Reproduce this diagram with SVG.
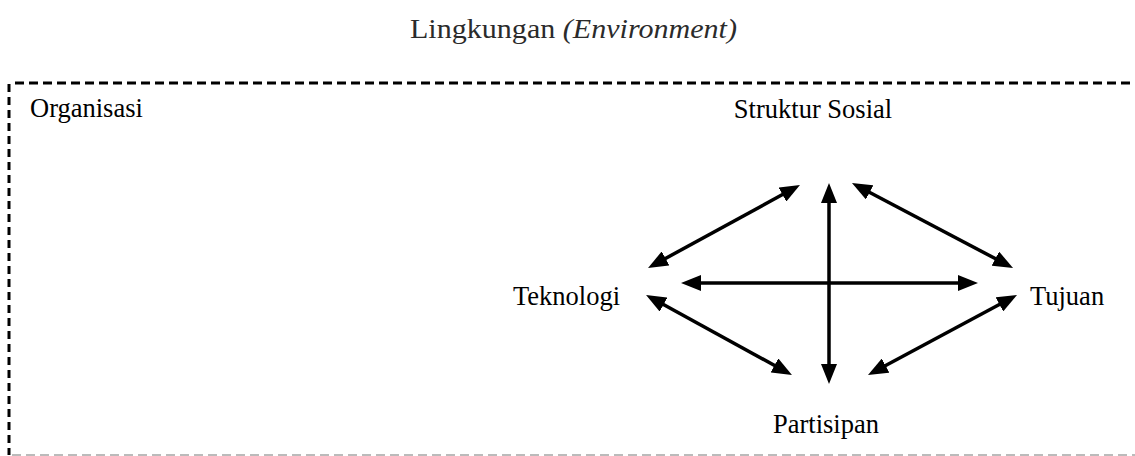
<svg xmlns="http://www.w3.org/2000/svg" width="1135" height="456" viewBox="0 0 1135 456">
<style>
.lbl{font-family:"Liberation Serif","Times New Roman",serif;font-size:26.5px;fill:#000}
.title{font-family:"Liberation Serif","Times New Roman",serif;font-size:28px;fill:#2b2b2b}
.arr{stroke:#000;stroke-width:3.5;fill:none;marker-start:url(#ah);marker-end:url(#ah)}
</style>
<defs>
<marker id="ah" markerUnits="userSpaceOnUse" markerWidth="20" markerHeight="16" viewBox="0 0 20 16" refX="10" refY="8" orient="auto-start-reverse">
<path d="M0,0 L20,8 L0,16 z" fill="#000"/>
</marker>
</defs>
<rect width="1135" height="456" fill="#fff"/>
<g id="environment">
<text class="title" x="410" y="38" textLength="327" lengthAdjust="spacingAndGlyphs">Lingkungan <tspan font-style="italic">(Environment)</tspan></text>
</g>
<g id="organisasi-boundary">
<line x1="15" y1="83" x2="1135" y2="83" stroke="#000" stroke-width="3" stroke-dasharray="9 5"/>
<line x1="9" y1="84" x2="9" y2="455" stroke="#000" stroke-width="3" stroke-dasharray="8 5"/>
<line x1="12" y1="455" x2="1135" y2="455" stroke="#bbb" stroke-width="2" stroke-dasharray="9 5"/>
<text class="lbl" x="30" y="117">Organisasi</text>
</g>
<g id="struktur-sosial"><text class="lbl" x="813" y="118" text-anchor="middle">Struktur Sosial</text></g>
<g id="teknologi"><text class="lbl" x="513" y="305">Teknologi</text></g>
<g id="tujuan"><text class="lbl" x="1030" y="305">Tujuan</text></g>
<g id="partisipan"><text class="lbl" x="773" y="433">Partisipan</text></g>
<g id="connectors">
<line class="arr" x1="656.8" y1="263.2" x2="791.2" y2="189.8"/>
<line class="arr" x1="860.8" y1="187.7" x2="1004.2" y2="263.3"/>
<line class="arr" x1="829" y1="193" x2="829" y2="374"/>
<line class="arr" x1="691" y1="283" x2="968" y2="283"/>
<line class="arr" x1="654.8" y1="299.8" x2="783.2" y2="370.2"/>
<line class="arr" x1="1008.2" y1="299.7" x2="876.8" y2="370.3"/>
</g>
</svg>
